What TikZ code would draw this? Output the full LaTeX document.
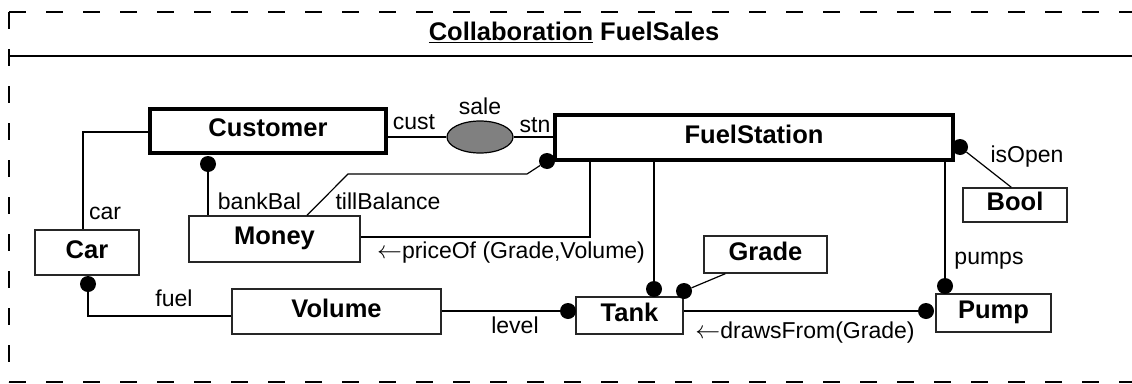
\documentclass[tikz,border=0pt]{standalone}
\usepackage{fontspec}
\setmainfont{Liberation Sans}
\usetikzlibrary{shapes.geometric,calc}
\begin{document}
\begin{tikzpicture}[x=1pt,y=-1pt,
  box/.style={draw=black!85, line width=1.4pt, inner sep=0pt, text height=18.3pt, text depth=7pt,
    font=\fontsize{25.5}{28}\selectfont\bfseries},
  thickbox/.style={box, draw=black, line width=4pt},
  conn/.style={line width=2pt},
  thinconn/.style={line width=1.2pt},
  dot/.style={circle, fill=black, inner sep=0pt, minimum size=16pt},
  lbl/.style={font=\fontsize{23}{26}\selectfont, inner sep=0pt},
  frame/.style={line width=2pt, dash pattern=on 17pt off 20pt}]
\useasboundingbox (0,0) rectangle (1132,383);
% frame
\draw[frame] (9,12) -- (1132,12);
\draw[frame] (9,12) -- (9,382);
\draw[frame] (9,382) -- (1132,382);
\draw[line width=2pt] (9,56) -- (1132,56);
\node[font=\fontsize{25.5}{28}\selectfont\bfseries, inner sep=0pt] (title) at (574,32) {\underline{Collaboration} FuelSales};
% boxes
\node[thickbox, minimum width=236pt, minimum height=44pt] (cust) at (268,131) {Customer};
\node[thickbox, minimum width=398pt, minimum height=45pt] (fs) at (754,137.5) {FuelStation};
\node[draw, ellipse, fill={rgb,255:red,128;green,128;blue,128}, line width=1.2pt, inner sep=0pt,
  minimum width=66pt, minimum height=32pt] (sale) at (480,137) {};
\node[box, minimum width=104pt, minimum height=45pt] (car) at (87,252.5) {Car};
\node[box, minimum width=171pt, minimum height=46pt] (money) at (274.5,239) {Money};
\node[box, minimum width=209pt, minimum height=45pt] (vol) at (336.5,311.5) {Volume};
\node[box, minimum width=107pt, minimum height=37pt] (tank) at (629.5,315.5) {Tank};
\node[box, minimum width=123pt, minimum height=37pt] (grade) at (765.5,254.5) {Grade};
\node[box, minimum width=104pt, minimum height=34pt] (bool) at (1015,205) {Bool};
\node[box, minimum width=115pt, minimum height=38pt] (pump) at (993.5,313) {Pump};
% dots
\node[dot] (dcb) at (208,164) {};
\node[dot] (dft) at (547,161) {};
\node[dot] (dtk) at (654,289) {};
\node[dot] (dtg) at (684,291) {};
\node[dot] (dvt) at (568,311) {};
\node[dot] (dpt) at (926,311) {};
\node[dot] (dpp) at (945,286) {};
\node[dot] (dio) at (960,147) {};
\node[dot] (dcv) at (88,284) {};
\coordinate (tb1) at (527,174);
\coordinate (tb2) at (348,174);
% connectors
\draw[conn] (cust.east |- sale.west) -- (sale.west);
\draw[conn] (sale.east) -- (sale.east -| fs.west);
\draw[conn] ($(cust.west)+(0,1)$) -| ([xshift=-4pt]car.north);
\draw[conn] (dcb) -- (dcb |- money.north);
\draw[thinconn] (dft) -- (tb1) -- (tb2) -- ($(money.north)+(32.5,0)$);
\draw[conn] ($(fs.south west)+(37,0)$) |- ($(money.east)+(0,-2)$);
\draw[conn] (dtk) -- (dtk |- fs.south);
\draw[thinconn] (dtg) -- ($(grade.south west)+(22,0)$);
\draw[conn] (vol.east |- dvt) -- (dvt);
\draw[conn] (tank.east |- dpt) -- (dpt);
\draw[conn] (dpp) -- (dpp |- fs.south);
\draw[thinconn] (dio) -- ($(bool.north west)+(49,0)$);
\draw[conn] (dcv) |- ($(vol.west)+(0,4.5)$);
% labels
\node[lbl] (lcust) at (414,122) {cust};
\node[lbl] (lsale) at (480,106) {sale};
\node[lbl] (lstn) at (535,125) {stn};
\node[lbl] (lcar) at (105,213) {car};
\node[lbl] (lbank) at (259.5,201) {bankBal};
\node[lbl] (ltill) at (388,201) {tillBalance};
\node[lbl] (lprice) at (511,253) {$\leftarrow$priceOf (Grade,Volume)};
\node[lbl] (lfuel) at (174,298) {fuel};
\node[lbl] (llevel) at (515,325) {level};
\node[lbl] (ldraws) at (805,333) {$\leftarrow$drawsFrom(Grade)};
\node[lbl] (lpumps) at (989,261) {pumps};
\node[lbl] (lopen) at (1027,157) {isOpen};
\end{tikzpicture}
\end{document}
